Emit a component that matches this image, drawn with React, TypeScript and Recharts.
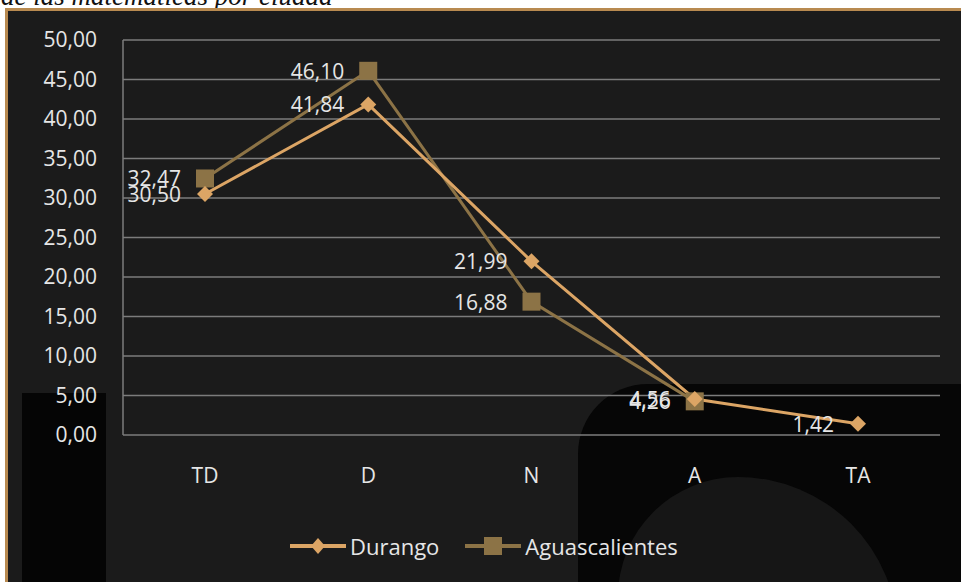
import React from 'react'
import { LineChart, Line, XAxis, YAxis, CartesianGrid, LabelList } from 'recharts'

const categories = ['TD', 'D', 'N', 'A', 'TA']
const durango = [30.5, 41.84, 21.99, 4.56, 1.42]
const aguascalientes: (number | null)[] = [32.47, 46.1, 16.88, 4.26, null]
const yTicks = [0, 5, 10, 15, 20, 25, 30, 35, 40, 45, 50]

const DURANGO_COLOR = '#dca565'
const AGUAS_COLOR = '#8c7346'
const TEXT = '#e6e6e6'
const FONT = '"Open Sans", "Noto Sans", sans-serif'

const data = categories.map((c, i) => ({
  name: c,
  durango: durango[i],
  aguascalientes: aguascalientes[i],
}))

const fmt = (v: any) => (typeof v === 'number' ? v.toFixed(2).replace('.', ',') : '')

const Diamond = (props: any) => {
  const { cx, cy } = props
  if (cx == null || cy == null) return null
  const r = 8
  return (
    <path
      d={`M${cx},${cy - r}L${cx + r},${cy}L${cx},${cy + r}L${cx - r},${cy}Z`}
      fill={DURANGO_COLOR}
    />
  )
}

const Square = (props: any) => {
  const { cx, cy, value } = props
  if (cx == null || cy == null || value == null) return null
  const s = 9
  return <rect x={cx - s} y={cy - s} width={s * 2} height={s * 2} fill={AGUAS_COLOR} />
}

const LeftLabel = (props: any) => {
  const { x, y, value } = props
  if (value == null) return null
  return (
    <text
      x={x - 24}
      y={y}
      fill={TEXT}
      fontSize={21}
      fontFamily={FONT}
      textAnchor="end"
      dominantBaseline="central"
    >
      {fmt(value)}
    </text>
  )
}

export default function App() {
  return (
    <div style={{ position: 'absolute', left: 0, top: 0, width: 961, height: 582, background: '#fff', overflow: 'hidden' }}>
      <div
        style={{
          position: 'absolute',
          left: 1,
          top: -19,
          fontFamily: '"Liberation Serif", "DejaVu Serif", serif',
          fontStyle: 'italic',
          fontSize: 27,
          color: '#111',
          whiteSpace: 'nowrap',
        }}
      >
        de las matemáticas por ciudad
      </div>
      <div
        style={{
          position: 'absolute',
          left: 5,
          top: 8,
          width: 956,
          height: 574,
          background: '#1b1b1b',
          borderLeft: '3px solid #b88a50',
          borderTop: '3px solid #b88a50',
          boxSizing: 'border-box',
          overflow: 'hidden',
        }}
      >
        {/* dark watermark shapes */}
        <div style={{ position: 'absolute', left: 14, top: 382, width: 84, height: 200, background: '#050505' }} />
        <div style={{ position: 'absolute', left: 570, top: 373, width: 420, height: 260, background: '#060606', borderTopLeftRadius: 70, borderTopRightRadius: 40 }} />
        <div style={{ position: 'absolute', left: 610, top: 466, width: 280, height: 200, background: '#161616', borderTopLeftRadius: 120, borderTopRightRadius: 160 }} />
      </div>
      <div style={{ position: 'absolute', left: 0, top: 0 }}>
        <LineChart width={961} height={582} data={data} margin={{ top: 40, right: 21, left: 23, bottom: 87 }}>
          <CartesianGrid vertical={false} stroke="#7c7c7c" strokeWidth={1.5} />
          <XAxis
            dataKey="name"
            axisLine={false}
            tickLine={false}
            padding={{ left: 82, right: 82 }}
            height={60}
            tickMargin={27}
            tick={{ fill: TEXT, fontSize: 21, fontFamily: FONT }}
          />
          <YAxis
            domain={[0, 50]}
            ticks={yTicks}
            width={100}
            axisLine={{ stroke: '#7c7c7c', strokeWidth: 1.5 }}
            tickLine={false}
            tickMargin={20}
            tickFormatter={fmt}
            tick={{ fill: TEXT, fontSize: 21, fontFamily: FONT }}
          />
          <Line
            dataKey="aguascalientes"
            stroke={AGUAS_COLOR}
            strokeWidth={3}
            dot={<Square />}
            activeDot={false}
            isAnimationActive={false}
          >
            <LabelList dataKey="aguascalientes" content={<LeftLabel />} />
          </Line>
          <Line
            dataKey="durango"
            stroke={DURANGO_COLOR}
            strokeWidth={3}
            dot={<Diamond />}
            activeDot={false}
            isAnimationActive={false}
          >
            <LabelList dataKey="durango" content={<LeftLabel />} />
          </Line>
        </LineChart>
      </div>
      <div
        style={{
          position: 'absolute',
          left: 290,
          top: 531,
          display: 'flex',
          alignItems: 'center',
          fontFamily: FONT,
          fontSize: 22,
          color: TEXT,
        }}
      >
        <svg width={56} height={20}>
          <line x1={0} y1={10} x2={56} y2={10} stroke={DURANGO_COLOR} strokeWidth={4} />
          <path d="M28,2L35,10L28,18L21,10Z" fill={DURANGO_COLOR} />
        </svg>
        <span style={{ marginLeft: 4, marginRight: 26 }}>Durango</span>
        <svg width={56} height={20}>
          <line x1={0} y1={10} x2={56} y2={10} stroke={AGUAS_COLOR} strokeWidth={4} />
          <rect x={19} y={1} width={18} height={18} fill={AGUAS_COLOR} />
        </svg>
        <span style={{ marginLeft: 4 }}>Aguascalientes</span>
      </div>
    </div>
  )
}
